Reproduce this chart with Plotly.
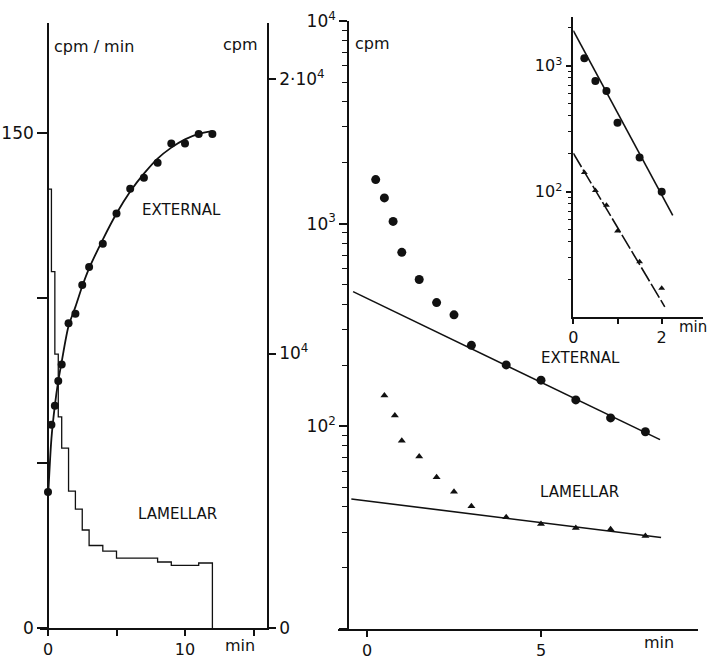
import plotly.graph_objects as go

W, H = 710, 660

# ---------------- data ----------------
# Left panel: cumulative external cpm (right axis) and lamellar cpm/min histogram (left axis)
ext_t = [0, 0.25, 0.5, 0.75, 1, 1.5, 2, 2.5, 3, 4, 5, 6, 7, 8, 9, 10, 11, 12]
ext_cum = [4950, 7400, 8100, 9000, 9600, 11100, 11450, 12500, 13150, 14000,
           15100, 16000, 16400, 16950, 17650, 17650, 18000, 18000]
fit_cum_t = [0, 0.25, 0.5, 0.75, 1, 1.5, 2, 2.5, 3, 4, 5, 6, 7, 8, 9, 10, 11, 12]
fit_cum = [4700, 6900, 8100, 9000, 9700, 11000, 11700, 12450, 13100, 14150,
           15100, 15900, 16550, 17100, 17500, 17800, 18000, 18100]
lam_edges = [0, 0.25, 0.5, 0.75, 1, 1.5, 2, 2.5, 3, 4, 5, 6, 7, 8, 9, 10, 11, 12]
lam_rate = [133, 108, 83, 64, 54.5, 41.5, 36, 29.7, 25, 23.3, 21.2, 21.2, 21.2,
            20, 19, 19, 19.7]

# Right panel: semi-log efflux
r_ext_t = [0.25, 0.5, 0.75, 1, 1.5, 2, 2.5, 3, 4, 5, 6, 7, 8]
r_ext = [1650, 1340, 1026, 722, 530, 408, 355, 251, 201, 169, 135, 110, 94]
r_ext_fit_t = [-0.4, 8.42]
r_ext_fit = [462, 86]
r_lam_t = [0.5, 0.8, 1, 1.5, 2, 2.5, 3, 4, 5, 6, 7, 8]
r_lam = [142, 113, 85, 71, 56, 47.5, 40.3, 35.6, 33, 31.5, 31.1, 28.8]
r_lam_fit_t = [-0.45, 8.45]
r_lam_fit = [43.8, 28.3]

# Inset: fast components
i_ext_t = [0.25, 0.5, 0.75, 1, 1.5, 2]
i_ext = [1145, 757, 630, 353, 187, 100]
i_ext_fit_t = [0, 2.25]
i_ext_fit = [1896, 65]
i_lam_t = [0.25, 0.5, 0.75, 1, 1.5, 2]
i_lam = [142, 102, 78, 48.7, 27.8, 17.1]
i_lam_fit_t = [0, 2.07]
i_lam_fit = [202, 12.2]

# tick labels
left_y_vals = [0, 50, 100, 150]
left_y_text = ["0", "", "", "150"]
left_y2_vals = [0, 10000, 20000]
left_y2_text = ["0", "10<sup>4</sup>", "2·10<sup>4</sup>"]
left_x_vals = [0, 5, 10, 15]
left_x_text = ["0", "", "10", ""]
right_x_vals = [0, 5]
right_x_text = ["0", "5"]
log_major = [10, 100, 1000, 10000]
right_y_text = ["", "10<sup>2</sup>", "10<sup>3</sup>", "10<sup>4</sup>"]
inset_x_vals = [0, 1, 2]
inset_x_text = ["0", "", "2"]
inset_y_text = ["", "10<sup>2</sup>", "10<sup>3</sup>", ""]

# ---------------- helpers ----------------
def px(x):
    return x / W

def py(y):
    return 1 - y / H

FONT = "DejaVu Sans"
INK = "#111111"
minor_log = [k * 10 ** d for d in range(1, 4) for k in range(2, 10)]

# histogram as a step line
hx = [0] + lam_edges + [lam_edges[-1]]
hy = [0] + lam_rate + [lam_rate[-1]] + [0]

fig = go.Figure()

# left panel
fig.add_trace(go.Scatter(x=hx, y=hy, mode="lines", line=dict(color=INK, width=1.3, shape="hv"),
                         xaxis="x", yaxis="y", hoverinfo="skip"))
fig.add_trace(go.Scatter(x=fit_cum_t, y=fit_cum, mode="lines",
                         line=dict(color=INK, width=1.8, shape="spline", smoothing=0.8),
                         xaxis="x", yaxis="y2"))
fig.add_trace(go.Scatter(x=ext_t, y=ext_cum, mode="markers",
                         marker=dict(symbol="circle", size=8, color=INK),
                         xaxis="x", yaxis="y2"))

# right panel
fig.add_trace(go.Scatter(x=r_ext_fit_t, y=r_ext_fit, mode="lines", line=dict(color=INK, width=1.6),
                         xaxis="x2", yaxis="y3"))
fig.add_trace(go.Scatter(x=r_lam_fit_t, y=r_lam_fit, mode="lines", line=dict(color=INK, width=1.6),
                         xaxis="x2", yaxis="y3"))
fig.add_trace(go.Scatter(x=r_ext_t, y=r_ext, mode="markers",
                         marker=dict(symbol="circle", size=9, color=INK), xaxis="x2", yaxis="y3"))
fig.add_trace(go.Scatter(x=r_lam_t, y=r_lam, mode="markers",
                         marker=dict(symbol="triangle-up", size=7, color=INK), xaxis="x2", yaxis="y3"))

# inset
fig.add_trace(go.Scatter(x=i_ext_fit_t, y=i_ext_fit, mode="lines", line=dict(color=INK, width=1.6),
                         xaxis="x3", yaxis="y4"))
fig.add_trace(go.Scatter(x=i_lam_fit_t, y=i_lam_fit, mode="lines",
                         line=dict(color=INK, width=1.6, dash="16px,3px"),
                         xaxis="x3", yaxis="y4"))
fig.add_trace(go.Scatter(x=i_ext_t, y=i_ext, mode="markers",
                         marker=dict(symbol="circle", size=8, color=INK), xaxis="x3", yaxis="y4"))
fig.add_trace(go.Scatter(x=i_lam_t, y=i_lam, mode="markers",
                         marker=dict(symbol="triangle-up", size=6, color=INK), xaxis="x3", yaxis="y4"))

axfont = dict(family=FONT, size=17, color=INK)
xfont = dict(family=FONT, size=16, color=INK)
common = dict(showgrid=False, zeroline=False, showline=True, linecolor=INK, linewidth=1.6,
              ticks="outside", tickcolor=INK, tickwidth=1.5, tickfont=axfont, tickmode="array",
              automargin=False)

# left panel geometry (pixels): x=0 at 48, 13.7 px/min; domain 40..267
lx0, lscale = 48, 13.7
ldom = (40, 267)
lytop, lybot = 23, 628

# right panel: x=0 at 367, 34.8 px/min; domain 338..698
rx0, rscale = 367, 34.8
rdom = (338, 698)
rytop, rybot = 21, 629

# inset: x=0 at 573.3, 44.2 px/min; domain 573.3..703
ix0, iscale = 573.3, 44.2
idom = (573.3, 703)
iytop, iybot = 16.7, 316.7
i_dec = 126.0
i_top_log = 3 + (65.7 - iytop) / i_dec
i_bot_log = 2 - (iybot - 191.7) / i_dec

fig.update_layout(
    width=W, height=H, margin=dict(l=0, r=0, t=0, b=0, autoexpand=False),
    paper_bgcolor="white", plot_bgcolor="rgba(0,0,0,0)", showlegend=False,
    font=dict(family=FONT, color=INK),
    xaxis=dict(common, domain=[px(ldom[0]), px(ldom[1])],
               range=[(ldom[0] - lx0) / lscale, (ldom[1] - lx0) / lscale],
               tickvals=left_x_vals, ticktext=left_x_text, ticklen=6, anchor="y",
               tickfont=xfont),
    yaxis=dict(common, domain=[py(lybot), py(lytop)],
               range=[0, (lybot - lytop) / 3.3], anchor="free", position=px(lx0),
               tickvals=left_y_vals, ticktext=left_y_text, ticklen=10),
    yaxis2=dict(common, overlaying="y", side="right", anchor="x",
                range=[0, (lybot - lytop) * 20000 / 549],
                tickvals=left_y2_vals, ticktext=left_y2_text, ticklen=7),
    xaxis2=dict(common, domain=[px(rdom[0]), px(rdom[1])],
                range=[(rdom[0] - rx0) / rscale, (rdom[1] - rx0) / rscale],
                tickvals=right_x_vals, ticktext=right_x_text, ticklen=6, anchor="y3",
                tickfont=xfont),
    yaxis3=dict(common, type="log", domain=[py(rybot), py(rytop)], range=[1, 4],
                anchor="free", position=px(348),
                tickvals=log_major, ticktext=right_y_text, ticklen=8,
                minor=dict(tickvals=minor_log, ticks="outside", ticklen=5,
                           tickcolor=INK, tickwidth=1.3, showgrid=False)),
    xaxis3=dict(common, domain=[px(idom[0]), px(idom[1])],
                range=[0, (idom[1] - ix0) / iscale],
                tickvals=inset_x_vals, ticktext=inset_x_text, ticklen=5, anchor="y4",
                tickfont=dict(family=FONT, size=16, color=INK)),
    yaxis4=dict(common, type="log", domain=[py(iybot), py(iytop)],
                range=[i_bot_log, i_top_log], anchor="x3",
                tickvals=log_major, ticktext=inset_y_text, ticklen=6,
                tickfont=dict(family=FONT, size=16, color=INK),
                minor=dict(tickvals=minor_log, ticks="outside", ticklen=4,
                           tickcolor=INK, tickwidth=1.2, showgrid=False)),
)

def note(text, x, y, size=16, xanchor="left"):
    fig.add_annotation(text=text, x=px(x), y=py(y), xref="paper", yref="paper",
                       showarrow=False, xanchor=xanchor, yanchor="middle",
                       font=dict(family=FONT, size=size, color=INK))

note("cpm / min", 52, 46, 16)
note("cpm", 260, 45, 16, "right")
note("EXTERNAL", 140, 210, 15)
note("LAMELLAR", 136, 514, 15)
note("min", 223, 645, 16)
note("cpm", 353, 44, 16)
note("EXTERNAL", 539, 358, 15)
note("LAMELLAR", 538, 492, 15)
note("min", 642, 642, 16)
note("min", 677, 327, 15)

fig.write_html("out.html", config={"displayModeBar": False},
               post_script="document.body.style.margin='0';document.body.style.padding='0';")
